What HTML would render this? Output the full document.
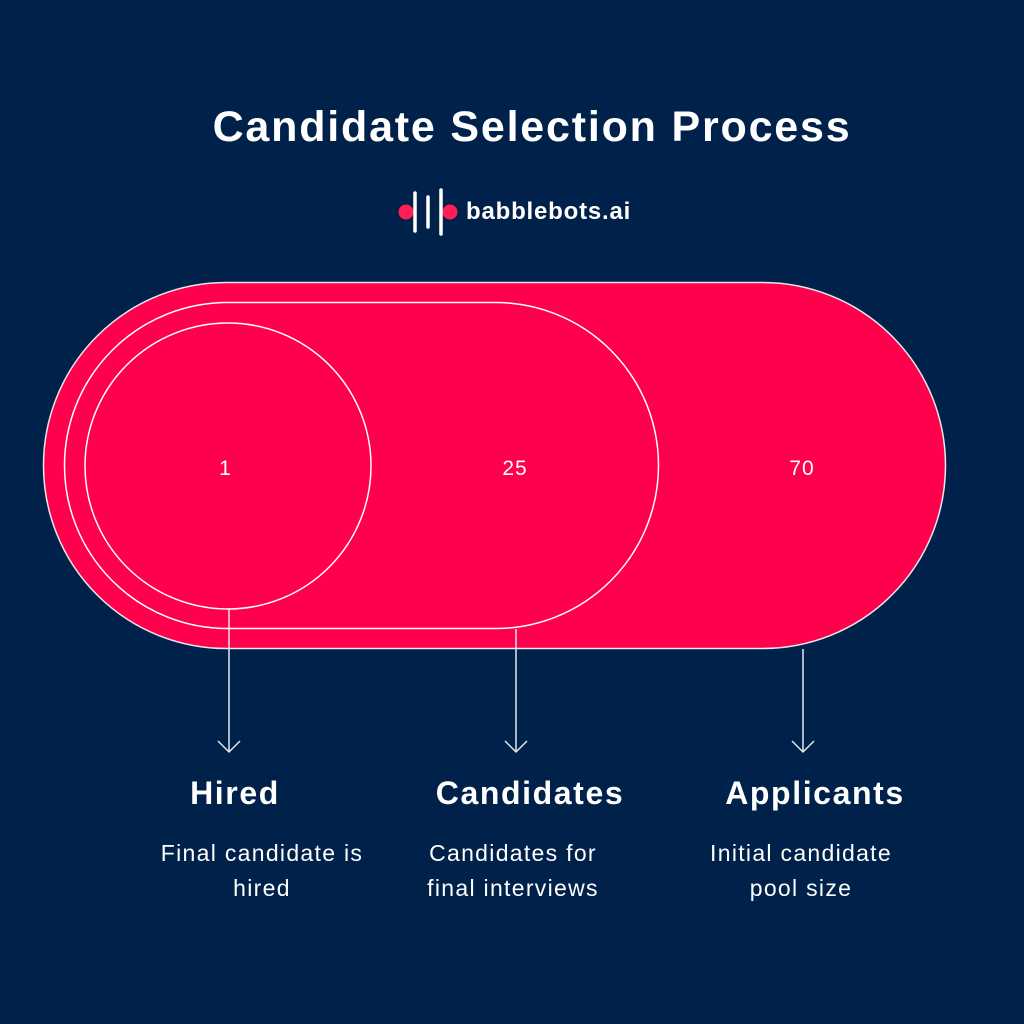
<!DOCTYPE html>
<html><head><meta charset="utf-8"><style>
html,body{margin:0;padding:0;background:#00224a;}
body{width:1024px;height:1024px;position:relative;overflow:hidden;font-family:"Liberation Sans",sans-serif;color:#fff;}
.t{position:absolute;text-align:center;white-space:nowrap;}
.h{font-size:32px;font-weight:bold;letter-spacing:1.6px;top:775px;width:300px;}
.d{font-size:23px;line-height:35px;letter-spacing:1.3px;top:836px;width:320px;}
</style></head><body>
<svg width="1024" height="1024" style="position:absolute;left:0;top:0">
<rect x="43.5" y="282.5" width="902" height="366" rx="183" fill="#ff004c" stroke="#e8e8ee" stroke-width="1.5"/>
<rect x="64.5" y="302.5" width="594" height="326" rx="163" fill="#ff004c" stroke="#fff" stroke-width="1.5"/>
<circle cx="228" cy="466" r="143" fill="#ff004c" stroke="#fff" stroke-width="1.5"/>
<g stroke="#e6e6ee" stroke-width="1.5" fill="none">
<line x1="229" y1="609" x2="229" y2="752"/><polyline points="218,741 229,752 240,741"/>
<line x1="516" y1="629" x2="516" y2="752"/><polyline points="505,741 516,752 527,741"/>
<line x1="803" y1="649" x2="803" y2="752"/><polyline points="792,741 803,752 814,741"/>
</g>
<circle cx="406" cy="212" r="7.5" fill="#ff1f55"/>
<circle cx="450" cy="212" r="7.5" fill="#ff1f55"/>
<g stroke="#fff" stroke-width="3.5" stroke-linecap="round">
<line x1="415" y1="193" x2="415" y2="231"/>
<line x1="428" y1="197" x2="428" y2="227"/>
<line x1="441" y1="190" x2="441" y2="234"/>
</g>
<text x="225" y="475" font-size="21" fill="#fff" text-anchor="middle" font-family="Liberation Sans">1</text>
<text x="515" y="475" font-size="21" fill="#fff" text-anchor="middle" font-family="Liberation Sans" letter-spacing="1">25</text>
<text x="802" y="475" font-size="21" fill="#fff" text-anchor="middle" font-family="Liberation Sans" letter-spacing="1">70</text>
</svg>
<div class="t" style="left:32px;width:1000px;top:103px;font-size:43px;font-weight:bold;letter-spacing:1.8px;">Candidate Selection Process</div>
<div class="t" style="left:466px;top:198px;font-size:24px;font-weight:bold;letter-spacing:0.8px;">babblebots.ai</div>
<div class="t h" style="left:85px;">Hired</div>
<div class="t h" style="left:380px;">Candidates</div>
<div class="t h" style="left:665px;">Applicants</div>
<div class="t d" style="left:102px;">Final candidate is<br>hired</div>
<div class="t d" style="left:353px;">Candidates for<br>final interviews</div>
<div class="t d" style="left:641px;">Initial candidate<br>pool size</div>
</body></html>
